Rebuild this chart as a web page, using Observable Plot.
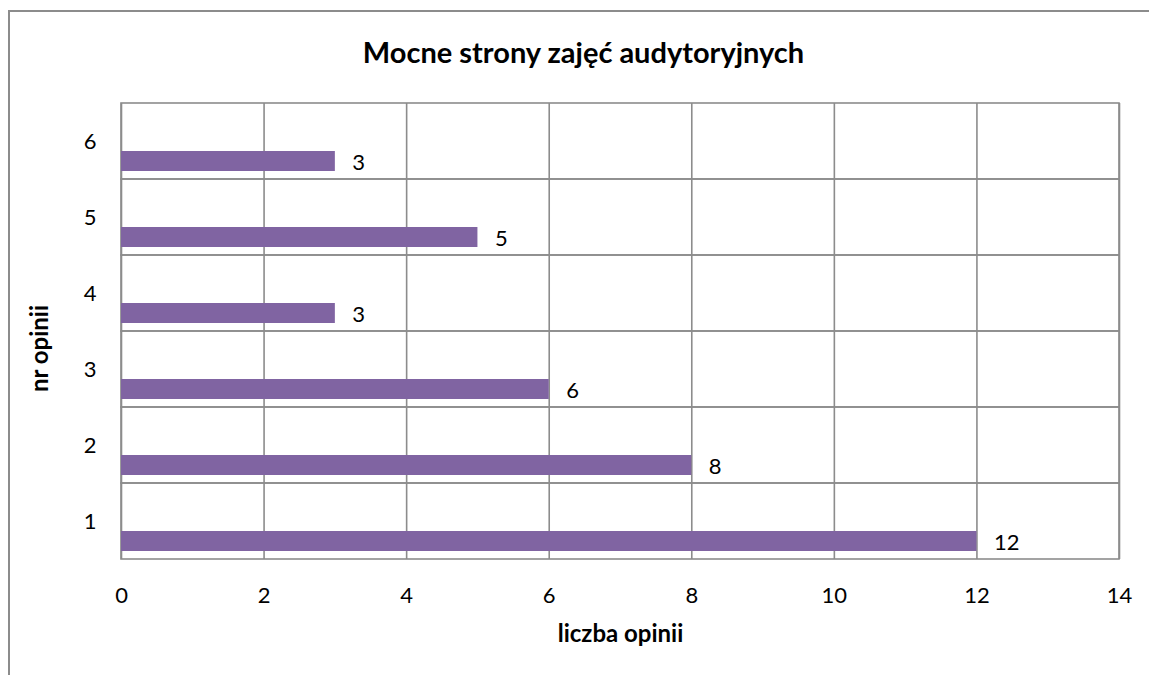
<!DOCTYPE html>
<html>
<head>
<meta charset="utf-8">
<script src="https://cdn.jsdelivr.net/npm/d3@7"></script>
<script src="https://cdn.jsdelivr.net/npm/@observablehq/plot@0.6"></script>
<style>
  html, body { margin: 0; padding: 0; background: #fff; overflow: hidden; }
  #wrap { position: relative; width: 1149px; height: 675px; }
  #border { position: absolute; left: 8px; top: 10px; width: 1300px; height: 800px; border: 2px solid #8c8c8c; box-sizing: border-box; }
  #chart { position: absolute; left: 0; top: 0; }
</style>
</head>
<body>
<div id="wrap"><div id="border"></div><div id="chart"></div></div>
<script>
const categories = ["1", "2", "3", "4", "5", "6"];
const values = [12, 8, 6, 3, 5, 3];
const xTicks = [0, 2, 4, 6, 8, 10, 12, 14];
const title = "Mocne strony zajęć audytoryjnych";
const xLabel = "liczba opinii";
const yLabel = "nr opinii";

const data = categories.map((c, i) => ({cat: c, value: values[i]}));
const font = "Lato, 'Open Sans', sans-serif";

const chart = Plot.plot({
  width: 1149,
  height: 675,
  marginLeft: 121,
  marginRight: 30,
  marginTop: 103,
  marginBottom: 116,
  style: {fontFamily: font, fontSize: "22px", color: "#000", background: "transparent"},
  x: {domain: [0, 14], ticks: xTicks},
  y: {type: "band", domain: categories.slice().reverse(), padding: 0},
  marks: [
    Plot.barX(categories, {x1: 0, x2: 14, y: d => d, fill: "none", stroke: "#8c8c8c", strokeWidth: 1.6}),
    Plot.ruleX(xTicks, {x: d => d, stroke: "#8c8c8c", strokeWidth: 1.6}),
    Plot.barX(data, {x: "value", y: "cat", fill: "#8064A2", insetTop: 48, insetBottom: 8}),
    Plot.text(data, {x: "value", y: "cat", text: d => String(d.value), textAnchor: "start", lineAnchor: "middle", dx: 17, dy: 21, fontSize: 22, fill: "#000"}),
    Plot.axisX({ticks: xTicks, tickSize: 0, tickPadding: 28, label: null, fontSize: 22}),
    Plot.axisY({tickSize: 0, tickPadding: 25, label: null, fontSize: 22}),
    Plot.text([title], {frameAnchor: "top", textAnchor: "middle", lineAnchor: "middle", dx: -37, dy: -50, fontWeight: "bold", fontSize: 29, fill: "#000"}),
    Plot.text([xLabel], {frameAnchor: "bottom", textAnchor: "middle", lineAnchor: "middle", dy: 75, fontWeight: "bold", fontSize: 24, fill: "#000"}),
    Plot.text([yLabel], {frameAnchor: "left", textAnchor: "middle", lineAnchor: "middle", dx: -81, dy: 17, rotate: -90, fontWeight: "bold", fontSize: 24, fill: "#000"})
  ]
});
document.getElementById("chart").appendChild(chart);
</script>
</body>
</html>
